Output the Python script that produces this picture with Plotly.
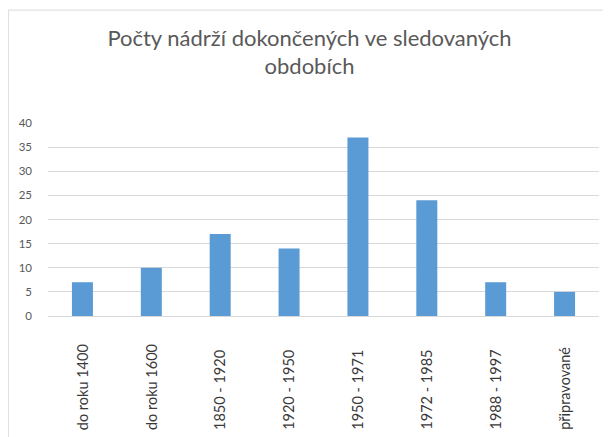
import plotly.graph_objects as go

categories = ["do roku 1400", "do roku 1600", "1850 - 1920", "1920 - 1950",
              "1950 - 1971", "1972 - 1985", "1988 - 1997", "připravované"]
values = [7, 10, 17, 14, 37, 24, 7, 5]
y_ticks = [0, 5, 10, 15, 20, 25, 30, 35, 40]

fig = go.Figure()
fig.add_trace(go.Bar(x=categories, y=values, marker=dict(color="#5b9bd5", line=dict(width=0))))

for c in categories:
    fig.add_annotation(x=c, xref="x", y=-0.60, yref="paper", text=c, textangle=-90,
                       showarrow=False, xanchor="center", yanchor="bottom",
                       font=dict(family="Lato, sans-serif", size=14.5, color="#3a3a3a"))

# chart-area border (left and top edges visible)
fig.add_shape(type="rect", xref="paper", yref="paper", x0=-0.072, x1=1.1, y0=-0.8, y1=1.585,
              line=dict(color="#d9d9d9", width=1), fillcolor="rgba(0,0,0,0)", layer="below")

fig.update_layout(
    width=603, height=429,
    margin=dict(l=40, r=12, t=115, b=121),
    paper_bgcolor="white", plot_bgcolor="white",
    title=dict(text="Počty nádrží dokončených ve sledovaných<br>obdobích",
               x=0.5, xref="container", xanchor="center", y=0.912, yanchor="top",
               font=dict(family="Lato, sans-serif", size=22, color="#595959")),
    bargap=0.695,
    showlegend=False,
    xaxis=dict(showticklabels=False, showline=True, linecolor="#d9d9d9", linewidth=1,
               ticks="", showgrid=False, fixedrange=True),
    yaxis=dict(range=[0, 40], tickvals=y_ticks, showgrid=True, gridcolor="#d9d9d9",
               gridwidth=1, zeroline=False, showline=False, ticks="",
               tickfont=dict(family="Lato, sans-serif", size=11.5, color="#595959"),
               ticklabelstandoff=15),
)

fig.write_html("out.html")
